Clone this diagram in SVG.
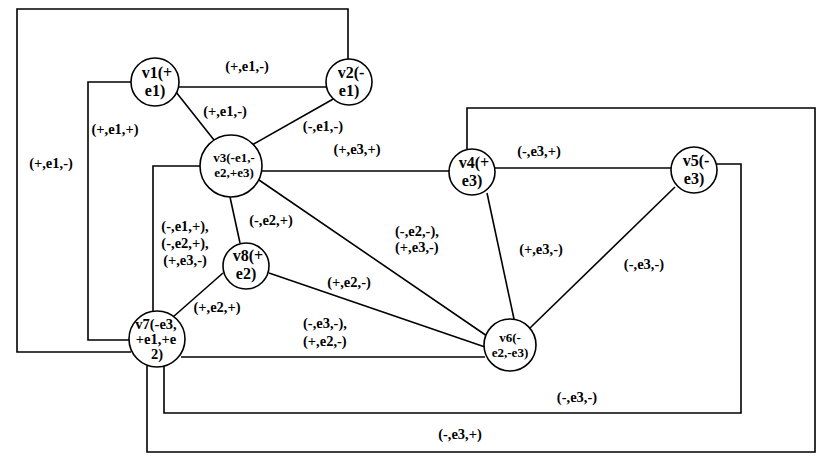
<svg xmlns="http://www.w3.org/2000/svg" width="830" height="463" viewBox="0 0 830 463">
<style>
.n{fill:#fff;stroke:#000;stroke-width:1.6}
.c{fill:none;stroke:#000;stroke-width:1.6}
text{font-weight:bold;fill:#000}
.l{font-size:14.5px}
.nl{font-size:16px;text-anchor:middle}
.ns{font-size:13px;text-anchor:middle}
.n7{font-size:14.5px;text-anchor:middle}
.m{text-anchor:middle}
</style>
<rect width="830" height="463" fill="#fff"/>
<g id="connectors">
<polyline class="c" points="348,59 348,9 17,9 17,352 131,352"/>
<polyline class="c" points="131,82 88,82 88,340 129,340"/>
<line class="c" x1="178" y1="87" x2="326" y2="87"/>
<line class="c" x1="176" y1="92" x2="214" y2="140"/>
<line class="c" x1="335" y1="98" x2="252" y2="145"/>
<polyline class="c" points="200,166 153,166 153,311"/>
<line class="c" x1="262" y1="171" x2="449" y2="171"/>
<polyline class="c" points="467,150 467,108 815,108 815,452 147,452 147,366"/>
<line class="c" x1="495" y1="168" x2="671" y2="168"/>
<polyline class="c" points="716,164 741,164 741,413 164,413 164,366"/>
<line class="c" x1="230" y1="197" x2="240" y2="243"/>
<line class="c" x1="259" y1="180" x2="487" y2="336"/>
<line class="c" x1="487" y1="193" x2="514" y2="319"/>
<line class="c" x1="675" y1="187" x2="530" y2="328"/>
<line class="c" x1="223" y1="273" x2="173" y2="317"/>
<line class="c" x1="269" y1="273" x2="485" y2="347"/>
<line class="c" x1="181" y1="357" x2="485" y2="357"/>
</g>
<g font-family="'Liberation Serif','Times New Roman','DejaVu Serif',serif">
<g id="edge-labels">
<text class="l m" x="247" y="71">(+,e1,-)</text>
<text class="l m" x="225" y="116">(+,e1,-)</text>
<text class="l m" x="323" y="131">(-,e1,-)</text>
<text class="l m" x="357" y="154">(+,e3,+)</text>
<text class="l m" x="115" y="134">(+,e1,+)</text>
<text class="l m" x="51" y="168">(+,e1,-)</text>
<text class="l m" x="271" y="225">(-,e2,+)</text>
<text class="l m" x="185" y="231">(-,e1,+),</text>
<text class="l m" x="185" y="248">(-,e2,+),</text>
<text class="l m" x="185" y="265">(+,e3,-)</text>
<text class="l" x="395" y="236">(-,e2,-),</text>
<text class="l" x="395" y="252">(+,e3,-)</text>
<text class="l m" x="539" y="156">(-,e3,+)</text>
<text class="l m" x="541" y="254">(+,e3,-)</text>
<text class="l m" x="644" y="269">(-,e3,-)</text>
<text class="l m" x="349" y="287">(+,e2,-)</text>
<text class="l m" x="217" y="312">(+,e2,+)</text>
<text class="l" x="303" y="328">(-,e3,-),</text>
<text class="l" x="303" y="346">(+,e2,-)</text>
<text class="l m" x="577" y="402">(-,e3,-)</text>
<text class="l m" x="460" y="439">(-,e3,+)</text>
</g>
<g id="v1"><circle class="n" cx="155" cy="82" r="24"/><text class="nl" x="157" y="78">v1(+</text><text class="nl" x="155" y="96">e1)</text></g>
<g id="v2"><circle class="n" cx="349" cy="82" r="23"/><text class="nl" x="351" y="78">v2(-</text><text class="nl" x="349" y="96">e1)</text></g>
<g id="v3"><circle class="n" cx="231" cy="166" r="31"/><text class="ns" x="234" y="162">v3(-e1,-</text><text class="ns" x="234" y="177">e2,+e3)</text></g>
<g id="v4"><circle class="n" cx="472" cy="172" r="23"/><text class="nl" x="474" y="168">v4(+</text><text class="nl" x="472" y="186">e3)</text></g>
<g id="v5"><circle class="n" cx="694" cy="170" r="23"/><text class="nl" x="696" y="166">v5(-</text><text class="nl" x="694" y="184">e3)</text></g>
<g id="v6"><circle class="n" cx="510" cy="345" r="26"/><text class="ns" x="510" y="342">v6(-</text><text class="ns" x="510" y="357">e2,-e3)</text></g>
<g id="v7"><circle class="n" cx="157" cy="339" r="28"/><text class="n7" x="156" y="329">v7(-e3,</text><text class="n7" x="156" y="344">+e1,+e</text><text class="n7" x="157" y="359">2)</text></g>
<g id="v8"><circle class="n" cx="246" cy="266" r="23"/><text class="nl" x="248" y="261">v8(+</text><text class="nl" x="246" y="279">e2)</text></g>
</g>
</svg>
